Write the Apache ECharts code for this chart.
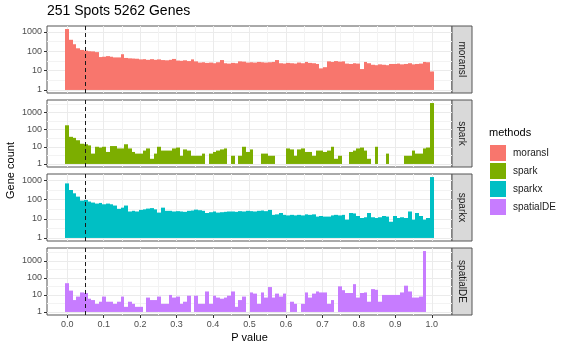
<!DOCTYPE html>
<html>
<head>
<meta charset="utf-8">
<script src="https://cdn.jsdelivr.net/npm/echarts@6/dist/echarts.min.js"></script>
<style>
  html, body { margin: 0; padding: 0; background: #fff; }
  #chart { width: 565px; height: 352px; }
</style>
</head>
<body>
<div id="chart"></div>
<script>
// histogram of p values, 100 bins centred on 0 .. 1 (ggplot bins = 100)
const methods = ["moransI", "spark", "sparkx", "spatialDE"];
const colors = ["#F8766D", "#7CAE00", "#00BFC4", "#C77CFF"];
const xTicks = [0, 0.1, 0.2, 0.3, 0.4, 0.5, 0.6, 0.7, 0.8, 0.9, 1.0];
const xMinorTicks = [0.05, 0.15, 0.25, 0.35, 0.45, 0.55, 0.65, 0.75, 0.85, 0.95];
const yTicks = [1, 10, 100, 1000];
const yMinorTicks = [3.1623, 31.623, 316.23, 3162.3];
const pCutoff = 0.05;

const moransICounts = [
  1400, 390, 230, 142, 117, 107, 100, 98, 90, 50,
  52, 56, 52, 48, 48, 70, 45, 43, 42, 41,
  38, 39, 36, 39, 36, 38, 35, 34, 36, 40,
  33, 32, 34, 31, 38, 30, 26, 27, 25, 26,
  24, 27, 35, 24, 23, 25, 24, 30, 29, 26,
  27, 26, 28, 27, 26, 27, 28, 35, 24, 23,
  25, 24, 23, 26, 24, 28, 25, 24, 22, 13,
  15, 30, 28, 31, 29, 30, 23, 22, 24, 23,
  12, 28, 24, 20, 19, 21, 20, 19, 22, 22,
  23, 21, 22, 24, 21, 22, 23, 28, 27, 9
];
const sparkCounts = [
  178, 38, 33, 24, 15, 14, 12, 4, 10, 9,
  10, 5, 11, 11, 8, 8, 14, 8, 5, 4,
  4, 6, 8, 2, 4, 10, 6, 6, 6, 8,
  9, 3, 7, 6, 3, 3, 3, 4, 0, 4,
  5, 6, 7, 8, 0, 3, 0, 3, 10, 5,
  7, 0, 0, 4, 4, 3, 3, 0, 0, 0,
  8, 7, 3, 7, 8, 5, 5, 3, 6, 6,
  5, 6, 10, 2, 3, 0, 0, 5, 6, 8,
  9, 6, 2, 0, 10, 0, 0, 4, 0, 0,
  0, 0, 3, 3, 6, 4, 4, 8, 9, 3500
];
const sparkxCounts = [
  700, 316, 213, 143, 89, 96, 79, 70, 62, 67,
  57, 62, 57, 49, 33, 38, 49, 24, 26, 24,
  29, 31, 34, 36, 31, 21, 38, 26, 26, 24,
  25, 24, 23, 26, 27, 30, 28, 26, 20, 22,
  24, 21, 22, 23, 24, 24, 23, 25, 24, 26,
  25, 24, 26, 27, 25, 29, 16, 17, 20, 16,
  15, 16, 15, 16, 15, 17, 16, 17, 13, 14,
  13, 13, 15, 16, 15, 16, 9, 20, 19, 14,
  11, 12, 20, 12, 11, 12, 14, 13, 7, 14,
  11, 12, 11, 24, 9, 20, 14, 9, 11, 1500
];
const spatialDECounts = [
  49, 18, 5, 8, 14, 13, 6, 5, 3, 4,
  8, 4, 4, 3, 4, 8, 2, 4, 3, 2,
  2, 0, 7, 5, 5, 8, 3, 3, 10, 7,
  8, 3, 4, 9, 0, 9, 3, 3, 16, 3,
  9, 7, 6, 7, 9, 16, 2, 5, 8, 0,
  14, 12, 3, 14, 7, 29, 7, 12, 8, 12,
  0, 4, 3, 0, 3, 14, 7, 12, 16, 14,
  14, 3, 5, 0, 32, 19, 13, 13, 43, 7,
  13, 14, 4, 22, 20, 4, 10, 10, 10, 10,
  10, 14, 35, 16, 7, 7, 8, 3800, 0, 0
];
const allCounts = [moransICounts, sparkCounts, sparkxCounts, spatialDECounts];

const nBins = moransICounts.length;
const binWidth = 1 / (nBins - 1);
const binCenters = moransICounts.map((_, i) => i * binWidth);

// layout
const panelLeft = 47;
const panelWidth = 405;
const panelHeight = 67;
const panelTops = [26, 100, 174, 248];
const stripWidth = 20;
const font = "Liberation Sans";

// ggplot style 5% expansion
const xLo = -binWidth / 2, xHi = 1 + binWidth / 2;
const xPad = 0.05 * (xHi - xLo);

const chart = echarts.init(document.getElementById("chart"));

const grid = [], xAxis = [], yAxis = [], series = [], graphic = [];

function histBar(color) {
  return function (params, api) {
    const x = api.value(0), c = api.value(1);
    if (!(c > 0)) return null;
    const a = api.coord([x - binWidth / 2, 1]);
    const b = api.coord([x + binWidth / 2, c]);
    // snap the bin edges to whole pixels so neighbouring bars leave no seam
    const x0 = Math.round(a[0]), x1 = Math.round(b[0]);
    return {
      type: "rect",
      shape: { x: x0, y: b[1], width: x1 - x0, height: a[1] - b[1] },
      style: { fill: color }
    };
  };
}

methods.forEach((name, p) => {
  const counts = allCounts[p];
  const isBottom = p === methods.length - 1;
  const top = Math.log10(Math.max(...counts));
  const yMin = Math.pow(10, -0.05 * top);
  const yMax = Math.pow(10, 1.05 * top);

  grid.push({
    left: panelLeft, top: panelTops[p], width: panelWidth, height: panelHeight,
    show: true, backgroundColor: "#fff", borderColor: "#555", borderWidth: 1
  });

  // major x
  xAxis.push({
    type: "value", gridIndex: p, min: xLo - xPad, max: xHi + xPad,
    axisLine: { show: false, onZero: false },
    axisTick: { show: isBottom, customValues: xTicks, length: 3, lineStyle: { color: "#333" } },
    axisLabel: {
      show: isBottom, customValues: xTicks, margin: 5,
      color: "#4d4d4d", fontSize: 9, fontFamily: font,
      formatter: v => v.toFixed(1)
    },
    splitLine: { show: true, lineStyle: { color: "#ebebeb", width: 1 } }
  });
  // minor x grid
  xAxis.push({
    type: "value", gridIndex: p, min: xLo - xPad, max: xHi + xPad,
    axisLine: { show: false, onZero: false },
    axisTick: { show: false, customValues: xMinorTicks },
    axisLabel: { show: false },
    splitLine: { show: true, lineStyle: { color: "#f3f3f3", width: 1 } }
  });

  yAxis.push({
    type: "log", gridIndex: p, min: yMin, max: yMax, position: "left",
    axisLine: { show: false, onZero: false },
    axisTick: { show: true, customValues: yTicks, length: 3, lineStyle: { color: "#333" } },
    axisLabel: {
      customValues: yTicks, margin: 5, color: "#4d4d4d", fontSize: 9, fontFamily: font,
      formatter: v => String(Math.round(v))
    },
    splitLine: { show: true, lineStyle: { color: "#ebebeb", width: 1 } }
  });
  yAxis.push({
    type: "log", gridIndex: p, min: yMin, max: yMax,
    axisLine: { show: false, onZero: false },
    axisTick: { show: false, customValues: yMinorTicks.filter(v => v < yMax) },
    axisLabel: { show: false },
    splitLine: { show: true, lineStyle: { color: "#f3f3f3", width: 1 } }
  });

  series.push({
    name: name, type: "custom",
    xAxisIndex: 2 * p, yAxisIndex: 2 * p,
    encode: { x: 0, y: 1 },
    data: counts.map((c, i) => [binCenters[i], c > 0 ? c : "-"]),
    itemStyle: { color: colors[p] },
    renderItem: histBar(colors[p]),
    z: 2
  });
  // p = 0.05 cutoff
  series.push({
    type: "line", xAxisIndex: 2 * p, yAxisIndex: 2 * p, data: [], z: 5,
    markLine: {
      silent: true, symbol: "none", animation: false,
      label: { show: false },
      lineStyle: { color: "#1a1a1a", type: [4, 3], width: 1 },
      data: [{ xAxis: pCutoff }]
    }
  });

  // facet strip
  graphic.push({
    type: "rect",
    shape: { x: panelLeft + panelWidth, y: panelTops[p], width: stripWidth, height: panelHeight },
    style: { fill: "#d9d9d9", stroke: "#555", lineWidth: 1 }
  });
  graphic.push({
    type: "text",
    x: panelLeft + panelWidth + stripWidth / 2, y: panelTops[p] + panelHeight / 2,
    rotation: -Math.PI / 2,
    style: {
      text: name, fill: "#1a1a1a", font: "10px '" + font + "'",
      align: "center", verticalAlign: "middle"
    }
  });
});

graphic.push({
  type: "text", x: 11, y: panelTops[0] + (panelTops[3] + panelHeight - panelTops[0]) / 2,
  rotation: Math.PI / 2,
  style: { text: "Gene count", fill: "#000", font: "11px '" + font + "'", align: "center", verticalAlign: "middle" }
});
graphic.push({
  type: "text", x: panelLeft + panelWidth / 2, y: 338,
  style: { text: "P value", fill: "#000", font: "11px '" + font + "'", align: "center", verticalAlign: "middle" }
});
graphic.push({
  type: "text", x: 489, y: 133,
  style: { text: "methods", fill: "#000", font: "11px '" + font + "'", align: "left", verticalAlign: "middle" }
});

chart.setOption({
  animation: false,
  title: {
    text: "251 Spots 5262 Genes", left: panelLeft, top: 4, padding: 0,
    textStyle: { fontSize: 14, fontWeight: "normal", color: "#000", fontFamily: font }
  },
  legend: {
    data: methods, orient: "vertical", left: 490, top: 145, padding: 0,
    itemWidth: 16, itemHeight: 16, itemGap: 2, icon: "rect",
    textStyle: { fontSize: 10, color: "#1a1a1a", fontFamily: font, padding: [0, 0, 0, 2] }
  },
  grid: grid,
  xAxis: xAxis,
  yAxis: yAxis,
  series: series,
  graphic: graphic
});
</script>
</body>
</html>
